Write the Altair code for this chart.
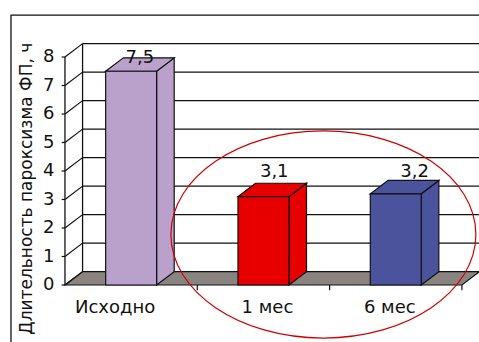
import altair as alt
import pandas as pd

# ---- chart data ----
categories = ["Исходно", "1 мес", "6 мес"]
values = [7.5, 3.1, 3.2]
value_labels = ["7,5", "3,1", "3,2"]
bar_colors = ["#b9a1cb", "#e60000", "#4a539b"]
y_ticks = [0, 1, 2, 3, 4, 5, 6, 7, 8]
y_title = "Длительность пароксизма ФП, ч"

# ---- layout (x in category units, y in value units) ----
W, H = 479, 342
XDOM = [-0.491, 3.129]
YDOM = [-2, 10]
DX, DY = 0.133, 0.47          # depth offset of the pseudo-3D box
BAR_W = 0.385
N = len(categories)
YMAX = max(y_ticks)
FONT = "DejaVu Sans"
FS = 18
FLOOR = "#8a8480"
# small pixel nudges for the text labels
cat_label_dx = [-16, 4, -6]
val_label_dx = [0, 2, 10]
val_label_dy = [7, -4, -1]


def X(f):
    return alt.X(f, type="quantitative", scale=alt.Scale(domain=XDOM, nice=False, zero=False), axis=None)


def Y(f):
    return alt.Y(f, type="quantitative", scale=alt.Scale(domain=YDOM, nice=False, zero=False), axis=None)


bars = pd.DataFrame({
    "name": categories,
    "v": values,
    "label": value_labels,
    "color": bar_colors,
    "i": range(N),
})
bars["xc"] = bars["i"] + 0.5
bars["xl"] = bars["xc"] - BAR_W / 2
bars["xr"] = bars["xc"] + BAR_W / 2
bars["zero"] = 0.0
bars["lx"] = bars["xc"] + DX / 2
bars["ly"] = bars["v"] + 0.55

side_rows, top_rows = [], []
for b in bars.to_dict("records"):
    side_rows.append({"name": b["name"], "color": b["color"], "x": b["xr"], "y": 0.0, "y2": b["v"]})
    side_rows.append({"name": b["name"], "color": b["color"], "x": b["xr"] + DX, "y": DY, "y2": b["v"] + DY})
    top_rows.append({"name": b["name"], "color": b["color"], "y": b["v"], "x": b["xl"], "x2": b["xr"]})
    top_rows.append({"name": b["name"], "color": b["color"], "y": b["v"] + DY,
                     "x": b["xl"] + DX, "x2": b["xr"] + DX})
side = pd.DataFrame(side_rows)
top = pd.DataFrame(top_rows)

grid = pd.DataFrame({"v": y_ticks, "lab": [str(t) for t in y_ticks]})
grid["vb"] = grid["v"] + DY
grid["x0"] = 0.0
grid["xb"] = DX
grid["xe"] = N + DX
grid["xt"] = -0.025
grid["xlab"] = -0.08

floor = pd.DataFrame({"y": [0.0, DY], "x": [0.0, DX], "x2": [float(N), N + DX]})
edges = pd.DataFrame({
    "x": [0.0, DX],
    "y": [0.0, DY],
    "y2": [float(YMAX), YMAX + DY],
})
right_edge = pd.DataFrame({"x": [N + DX], "y": [DY], "y2": [YMAX + DY]})
cat_ticks = pd.DataFrame({"x": [float(i) for i in range(1, N + 1)], "y": 0.0, "y2": -0.18})
frame = pd.DataFrame({"x": [-0.408], "x2": [3.4], "y": [9.47], "y2": [-2.3]})
title_df = pd.DataFrame({"x": [-0.285], "y": [3.38], "t": [y_title]})
ellipse = pd.DataFrame({"x": [1.953], "y": [1.772]})

k, ry = 0.5523, 0.679
ELLIPSE_PATH = (
    f"M -1 0 C -1 {-k*ry:.4f} {-k:.4f} {-ry} 0 {-ry} "
    f"C {k:.4f} {-ry} 1 {-k*ry:.4f} 1 0 "
    f"C 1 {k*ry:.4f} {k:.4f} {ry} 0 {ry} "
    f"C {-k:.4f} {ry} -1 {k*ry:.4f} -1 0 Z"
)

LINE = "#111111"
TXT = "#111111"

frame_l = alt.Chart(frame).mark_rect(fillOpacity=0, stroke=LINE, strokeWidth=1.3).encode(
    x=X("x"), x2="x2", y=Y("y"), y2="y2")

back_grid = alt.Chart(grid).mark_rule(color=LINE, strokeWidth=1.4).encode(
    x=X("xb"), x2="xe", y=Y("vb"))
side_grid = alt.Chart(grid).mark_rule(color=LINE, strokeWidth=1.2).encode(
    x=X("x0"), x2="xb", y=Y("v"), y2="vb")
y_tick_l = alt.Chart(grid).mark_rule(color=LINE, strokeWidth=1.2).encode(
    x=X("xt"), x2="x0", y=Y("v"))
y_lab = alt.Chart(grid).mark_text(align="right", baseline="middle", font=FONT, fontSize=FS, color=TXT).encode(
    x=X("xlab"), y=Y("v"), text="lab")

edge_l = alt.Chart(edges).mark_rule(color=LINE, strokeWidth=1.3).encode(x=X("x"), y=Y("y"), y2="y2")
right_l = alt.Chart(right_edge).mark_rule(color="#bbbbbb", strokeWidth=1.2).encode(x=X("x"), y=Y("y"), y2="y2")

floor_l = alt.Chart(floor).mark_area(orient="horizontal", color=FLOOR, stroke=LINE, strokeWidth=1.2).encode(
    y=Y("y"), x=X("x"), x2="x2")
cat_tick_l = alt.Chart(cat_ticks).mark_rule(color=LINE, strokeWidth=1.2).encode(x=X("x"), y=Y("y"), y2="y2")

side_l = alt.Chart(side).mark_area(stroke=LINE, strokeWidth=1.2, strokeJoin="miter").encode(
    x=X("x"), y=Y("y"), y2="y2", detail="name:N", fill=alt.Fill("color:N", scale=None))
top_l = alt.Chart(top).mark_area(orient="horizontal", stroke=LINE, strokeWidth=1.2, strokeJoin="miter").encode(
    y=Y("y"), x=X("x"), x2="x2", detail="name:N", fill=alt.Fill("color:N", scale=None))
front_l = alt.Chart(bars).mark_rect(stroke=LINE, strokeWidth=1.2).encode(
    x=X("xl"), x2="xr", y=Y("zero"), y2="v", fill=alt.Fill("color:N", scale=None))

val_layers = []
cat_layers = []
for i in range(N):
    one = bars.iloc[[i]]
    val_layers.append(
        alt.Chart(one).mark_text(baseline="alphabetic", font=FONT, fontSize=FS, color=TXT,
                                 dx=val_label_dx[i], dy=val_label_dy[i]).encode(
            x=X("lx"), y=Y("ly"), text="label"))
    cat_layers.append(
        alt.Chart(one).mark_text(baseline="alphabetic", font=FONT, fontSize=FS, color=TXT,
                                 dx=cat_label_dx[i]).encode(
            x=X("xc"), y=alt.value(313), text="name"))

title_l = alt.Chart(title_df).mark_text(angle=270, align="center", baseline="middle", font=FONT, fontSize=17,
                                         color=TXT).encode(x=X("x"), y=Y("y"), text="t")

ellipse_l = alt.Chart(ellipse).mark_point(shape=ELLIPSE_PATH, filled=False, stroke="#d00000", strokeWidth=1.2,
                                          size=(2 * 152.5) ** 2, opacity=1).encode(x=X("x"), y=Y("y"))

chart = alt.layer(
    frame_l, back_grid, right_l, edge_l, floor_l, side_grid, y_tick_l, cat_tick_l,
    side_l, top_l, front_l, *val_layers, y_lab, *cat_layers, title_l, ellipse_l,
).properties(
    width=W, height=H, autosize=alt.AutoSizeParams(type="none"), padding=0,
).configure_view(stroke=None)

chart.save("out.html", embed_options={"renderer": "svg", "actions": False})
